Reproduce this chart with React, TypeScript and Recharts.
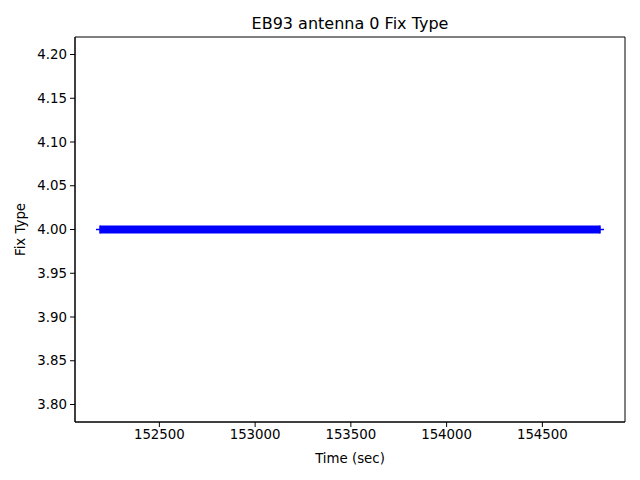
import { LineChart, Line, XAxis, YAxis, Label, ReferenceArea } from "recharts";

const times = [152190, 154801];
const fixType = [4, 4];
const xTicks = [152500, 153000, 153500, 154000, 154500];
const yTicks = [3.8, 3.85, 3.9, 3.95, 4.0, 4.05, 4.1, 4.15, 4.2];

const data = times.map((t, i) => ({ t, v: fixType[i] }));

const xDomain = [152059.5, 154931.5];
const yDomain = [3.78, 4.22];

const font = "'DejaVu Sans', sans-serif";

// matplotlib-style '+' marker
function PlusDot(props: any) {
  const { cx, cy } = props;
  if (cx == null || cy == null) return null;
  return (
    <g>
      <line x1={cx - 4} x2={cx + 4} y1={cy} y2={cy} stroke="#0000ff" strokeWidth={1.5} />
      <line x1={cx} x2={cx} y1={cy - 4} y2={cy + 4} stroke="#0000ff" strokeWidth={1.5} />
    </g>
  );
}

export default function App() {
  return (
    <div style={{ position: "absolute", left: 0, top: 0, width: 640, height: 480, background: "#fff", fontFamily: font }}>
      <div style={{ position: "absolute", left: 75, width: 550, top: 14, textAlign: "center", fontSize: 16, color: "#000", lineHeight: "20px" }}>
        EB93 antenna 0 Fix Type
      </div>
      <LineChart width={640} height={480} data={data} margin={{ top: 37, right: 15, bottom: 0, left: 0 }}>
        <XAxis
          dataKey="t"
          type="number"
          domain={xDomain}
          ticks={xTicks}
          height={58}
          allowDataOverflow
          tick={{ fill: "#000", fontSize: 13.33, fontFamily: font }}
          tickLine={{ stroke: "#000" }}
          axisLine={{ stroke: "#000" }}
          tickSize={5}
          tickMargin={3}
        >
          <Label
            content={() => (
              <text x={350} y={463} textAnchor="middle" fontSize={13.33} fontFamily={font} fill="#000">
                Time (sec)
              </text>
            )}
          />
        </XAxis>
        <YAxis
          dataKey="v"
          type="number"
          domain={yDomain}
          ticks={yTicks}
          width={75}
          allowDataOverflow
          tickFormatter={(v: number) => v.toFixed(2)}
          tick={{ fill: "#000", fontSize: 13.33, fontFamily: font }}
          tickLine={{ stroke: "#000" }}
          axisLine={{ stroke: "#000" }}
          tickSize={5}
          tickMargin={3}
        >
          <Label
            content={() => (
              <text x={0} y={0} transform="translate(25,229.5) rotate(-90)" textAnchor="middle" fontSize={13.33} fontFamily={font} fill="#000">
                Fix Type
              </text>
            )}
          />
        </YAxis>
        <ReferenceArea
          x1={xDomain[0]}
          x2={xDomain[1]}
          y1={yDomain[0]}
          y2={yDomain[1]}
          fill="none"
          fillOpacity={0}
          stroke="#000"
          strokeWidth={1}
          ifOverflow="visible"
        />
        <Line
          dataKey="v"
          type="linear"
          stroke="#0000ff"
          strokeWidth={8}
          strokeLinecap="butt"
          dot={<PlusDot />}
          activeDot={false}
          isAnimationActive={false}
        />
      </LineChart>
    </div>
  );
}
